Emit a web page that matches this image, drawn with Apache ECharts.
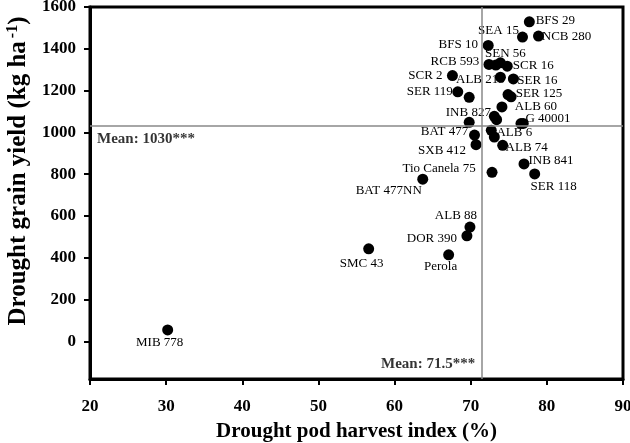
<!DOCTYPE html>
<html><head><meta charset="utf-8">
<script src="https://cdn.jsdelivr.net/npm/echarts@6/dist/echarts.min.js"></script>
<style>html,body{margin:0;padding:0;background:#fff}#c{width:630px;height:443px}</style>
</head><body><div id="c"></div>
<script>
const genotypes = ['MIB 778','SMC 43','Perola','DOR 390','ALB 88','BAT 477NN','Tio Canela 75','SXB 412','BAT 477','ALB 6','','ALB 74','INB 841','SER 118','G 40001','','','INB 827','','ALB 60','SER 125','','','SER 119','SCR 2','ALB 213','SER 16','RCB 593','','SEN 56','SCR 16','BFS 10','SEA 15','NCB 280','BFS 29'];
const podHarvestIndex = [30.2,56.6,67.1,69.5,69.9,63.7,72.8,70.7,70.5,72.7,73.1,74.2,77.0,78.4,76.6,76.9,69.8,73.1,73.4,74.1,74.9,75.3,69.8,68.3,67.6,73.9,75.6,72.4,73.3,73.9,74.8,72.3,76.8,78.9,77.7];
const grainYield = [55,443,414,505,547,776,809,941,987,1010,978,938,849,801,1042,1043,1048,1077,1061,1122,1181,1170,1168,1194,1272,1264,1256,1325,1322,1333,1317,1416,1456,1461,1529];
const meanPodHI = 71.5;
const meanYield = 1030;
const xTicks = [20,30,40,50,60,70,80,90];
const yTicks = [0,200,400,600,800,1000,1200,1400,1600];

// label placement (offset of label centre from point, px)
const labelOffsets = {
 'MIB 778':[-8,13],'SMC 43':[-7,15],'Perola':[-8,12],'DOR 390':[-35,3],'ALB 88':[-14,-11],
 'BAT 477NN':[-34,11],'Tio Canela 75':[-53,-4],'SXB 412':[-34,6],'BAT 477':[-30,-4],'ALB 6':[23,2],
 'ALB 74':[24,2],'INB 841':[27,-3],'SER 118':[19,13],'G 40001':[27,-5],'INB 827':[-26,-4],
 'ALB 60':[34,0],'SER 125':[31,-1],'SER 119':[-28,0],'SCR 2':[-27,0],'ALB 213':[-20,2],
 'SER 16':[24,2],'SCR 16':[26,-1],'SEN 56':[5,-9],'RCB 593':[-34,-3],'BFS 10':[-30,-1],
 'SEA 15':[-24,-7],'NCB 280':[28,1],'BFS 29':[26,-1]
};
const serif = "'Liberation Serif','Times New Roman',serif";

const pts = genotypes.map((g,i)=>{
  const o = labelOffsets[g];
  return {
    value:[podHarvestIndex[i], grainYield[i]], name:g,
    label: o ? {show:true, position:'inside', offset:o, formatter:g} : {show:false}
  };
});

const chart = echarts.init(document.getElementById('c'), null, {renderer:'canvas'});
chart.setOption({
  animation:false,
  grid:{left:90,right:7,top:7,bottom:64,show:true,borderColor:'#000',borderWidth:3,backgroundColor:'transparent',outerBoundsMode:'none',containLabel:false},
  xAxis:{
    type:'value', min:20, max:90, interval:10,
    name:'Drought pod harvest index (%)', nameLocation:'middle', nameGap:42,
    nameTextStyle:{fontFamily:serif,fontWeight:'bold',fontSize:21,color:'#000'},
    axisLine:{show:true,onZero:false,lineStyle:{color:'#000',width:3}},
    axisTick:{show:true,inside:false,length:6,lineStyle:{color:'#000',width:2}},
    axisLabel:{fontFamily:serif,fontWeight:'bold',fontSize:17,color:'#000',margin:19,customValues:xTicks},
    splitLine:{show:false}
  },
  yAxis:{
    type:'value', min:-180, max:1600,
    name:'{a|Drought grain yield (kg ha}{s|-1}{a|)}', nameLocation:'middle', nameGap:52,
    nameTextStyle:{padding:[0,0,0,44],rich:{
      a:{fontFamily:serif,fontWeight:'bold',fontSize:25,color:'#000'},
      s:{fontFamily:serif,fontWeight:'bold',fontSize:16,color:'#000',padding:[0,0,12,3]}
    }},
    axisLine:{show:true,onZero:false,lineStyle:{color:'#000',width:3}},
    axisTick:{show:true,inside:false,length:6,lineStyle:{color:'#000',width:2},customValues:yTicks},
    axisLabel:{fontFamily:serif,fontWeight:'bold',fontSize:17,color:'#000',margin:14,customValues:yTicks,formatter:v=>String(v)},
    splitLine:{show:false}
  },
  series:[
    {
      type:'scatter', symbol:'circle', symbolSize:11,
      itemStyle:{color:'#000',opacity:1},
      label:{fontFamily:serif,fontSize:13,color:'#000'},
      data:pts, z:3,
      markLine:{
        silent:true, symbol:['none','none'],
        lineStyle:{color:'#888',width:1.5,type:'solid'},
        label:{show:false},
        data:[{xAxis:meanPodHI},{yAxis:meanYield}]
      }
    },
    {
      type:'scatter', symbolSize:0, silent:true, z:4,
      label:{show:true,fontFamily:serif,fontWeight:'bold',fontSize:15,color:'#000'},
      data:[
        {value:[20,966],label:{position:'right',distance:7,formatter:'Mean: '+meanYield+'***'}},
        {value:[meanPodHI,-110],label:{position:'left',distance:7,formatter:'Mean: '+meanPodHI+'***'}}
      ]
    }
  ]
});
</script></body></html>
